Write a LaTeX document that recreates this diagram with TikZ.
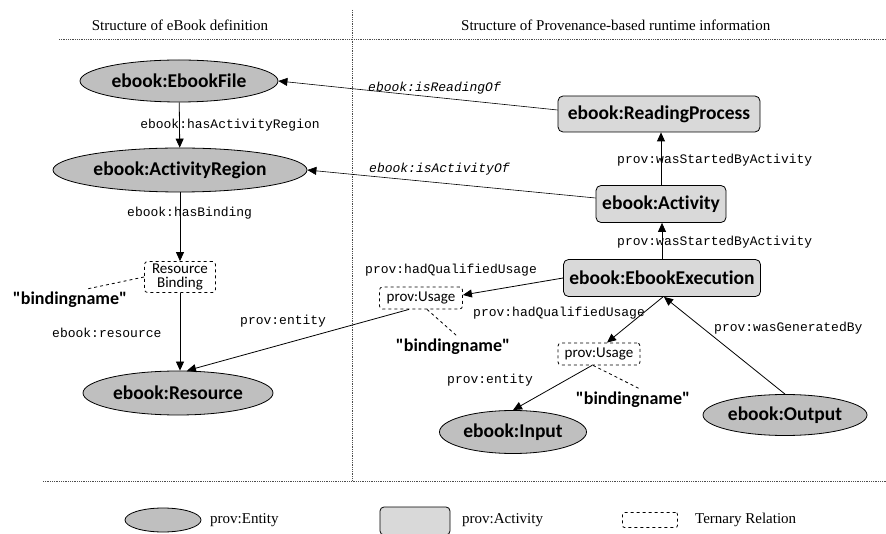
\documentclass[tikz,border=0pt]{standalone}
\usepackage{fontspec}
\setmainfont{Liberation Serif}
\newfontfamily\calib[Ligatures=NoCommon]{Carlito}
\newfontfamily\cour{Liberation Mono}
\usetikzlibrary{shapes.geometric,arrows.meta}
\definecolor{entfill}{HTML}{BFBFBF}
\definecolor{actfill}{HTML}{D9D9D9}
\tikzset{
  entity/.style={ellipse,draw,thick,fill=entfill,inner sep=0pt,font=\calib\bfseries\fontsize{19.5}{21}\selectfont},
  activity/.style={rectangle,rounded corners=5pt,draw,thick,fill=actfill,inner sep=0pt,font=\calib\bfseries\fontsize{19.5}{21}\selectfont},
  ternary/.style={rectangle,rounded corners=3pt,draw,dashed,thick,inner sep=0pt,align=center,font=\calib\fontsize{15}{15}\selectfont},
  bname/.style={inner sep=0pt,font=\calib\bfseries\fontsize{18}{20}\selectfont},
  elab/.style={inner sep=0pt,font=\cour\fontsize{13}{15}\selectfont},
  ilab/.style={inner sep=0pt,font=\cour\itshape\fontsize{13}{15}\selectfont},
  head/.style={inner sep=0pt,font=\fontsize{15}{17}\selectfont},
  conn/.style={thick,-{Triangle[length=9pt,width=8pt]}},
  thinconn/.style={semithick,-{Triangle[length=9pt,width=8pt]}},
  dline/.style={thick,dashed},
  sep/.style={densely dotted,black!70,thick}
}
\begin{document}
\begin{tikzpicture}[x=1pt,y=-1pt]
\useasboundingbox (0,0) rectangle (886,534);
% headers and separators
\node[head] (h1) at (180,25) {Structure of eBook definition};
\node[head,anchor=west] (h2) at (461,25) {Structure of Provenance-based runtime information};
\coordinate (t1) at (59,39); \coordinate (t2) at (886,39);
\coordinate (v1) at (352,10); \coordinate (v2) at (352,481);
\coordinate (b1) at (43,481); \coordinate (b2) at (886,481);
\draw[sep] (t1) -- (t2);
\draw[sep] (v1) -- (v2);
\draw[sep] (b1) -- (b2);
% left nodes
\node[entity,minimum width=198pt,minimum height=42pt] (ef) at (179,81) {ebook:EbookFile};
\node[entity,minimum width=254pt,minimum height=44pt] (ar) at (180,170) {ebook:ActivityRegion};
\node[ternary,minimum width=71pt,minimum height=31pt] (rb) at (180,277) {Resource\\[-1pt]Binding};
\node[entity,minimum width=190pt,minimum height=44pt] (res) at (178,393) {ebook:Resource};
\node[bname] (bn0) at (70,300) {"bindingname"};
% right nodes
\node[activity,minimum width=202pt,minimum height=36pt] (rp) at (659,114) {ebook:ReadingProcess};
\node[activity,minimum width=130pt,minimum height=37pt] (act) at (661,204) {ebook:Activity};
\node[activity,minimum width=197pt,minimum height=37pt] (ex) at (662,278) {ebook:EbookExecution};
\node[ternary,minimum width=83pt,minimum height=22pt] (u1) at (421,298) {prov:Usage};
\node[ternary,minimum width=82pt,minimum height=22pt] (u2) at (599,354) {prov:Usage};
\node[bname] (bn1) at (453,347) {"bindingname"};
\node[bname] (bn2) at (633,400) {"bindingname"};
\node[entity,minimum width=147pt,minimum height=43pt] (in) at (513,432) {ebook:Input};
\node[entity,minimum width=164pt,minimum height=41pt] (out) at (785,415) {ebook:Output};
% connectors
\draw[conn] (ef) -- (ar);
\draw[conn] (ar) -- (rb);
\draw[conn] (rb) -- (rb.south |- res.north);
\draw[thinconn] ([yshift=4pt]rp.west) -- (ef.east);
\draw[thinconn] ([yshift=6pt]act.west) -- (ar.east);
\draw[conn] (act.north) -- (act.north |- rp.south);
\draw[conn] (ex.north) -- (ex.north |- act.south);
\draw[conn] (ex.west) -- ([yshift=3pt]u1.east);
\draw[conn] ([xshift=-12pt]u1.south) -- ([xshift=9pt]res.north);
\draw[conn] ([xshift=1pt]ex.south) -- ([xshift=8pt]u2.north);
\draw[conn] (out.north) -- ([xshift=2pt]ex.south);
\draw[conn] ([xshift=-7pt]u2.south) -- (in.north);
\draw[dline] (rb.west) -- ([xshift=17pt,yshift=3pt]bn0.north);
\draw[dline] ([xshift=6pt]u1.south) -- ([xshift=4pt,yshift=3pt]bn1.north);
\draw[dline] ([xshift=-6pt]u2.south) -- ([xshift=7pt,yshift=3pt]bn2.north);
% edge labels
\node[elab] (l1) at (230,125) {ebook:hasActivityRegion};
\node[elab,anchor=west] (l2) at (127,213) {ebook:hasBinding};
\node[elab,anchor=west] (l3) at (52,333) {ebook:resource};
\node[ilab,anchor=west] (l4) at (368,88) {ebook:isReadingOf};
\node[ilab,anchor=west] (l5) at (369,169) {ebook:isActivityOf};
\node[elab,anchor=west] (l6) at (617,160) {prov:wasStartedByActivity};
\node[elab,anchor=west] (l7) at (617,242) {prov:wasStartedByActivity};
\node[elab,anchor=west] (l8) at (365,270) {prov:hadQualifiedUsage};
\node[elab,anchor=west] (l9) at (240,321) {prov:entity};
\node[elab,anchor=west] (l10) at (473,313) {prov:hadQualifiedUsage};
\node[elab,anchor=west] (l11) at (447,380) {prov:entity};
\node[elab,anchor=west] (l12) at (714,328) {prov:wasGeneratedBy};
% legend
\node[ellipse,draw,thick,fill=entfill,minimum width=76pt,minimum height=24pt,inner sep=0pt] (ke) at (163,520) {};
\node[head,anchor=west] (kel) at (210,520) {prov:Entity};
\node[rectangle,rounded corners=4pt,draw,thick,fill=actfill,minimum width=70pt,minimum height=28pt,inner sep=0pt] (ka) at (415,521) {};
\node[head,anchor=west] (kal) at (462,520) {prov:Activity};
\node[rectangle,rounded corners=2pt,draw,dashed,thick,minimum width=55pt,minimum height=15pt,inner sep=0pt] (kt) at (650,520) {};
\node[head,anchor=west] (ktl) at (695,520) {Ternary Relation};
\end{tikzpicture}
\end{document}
